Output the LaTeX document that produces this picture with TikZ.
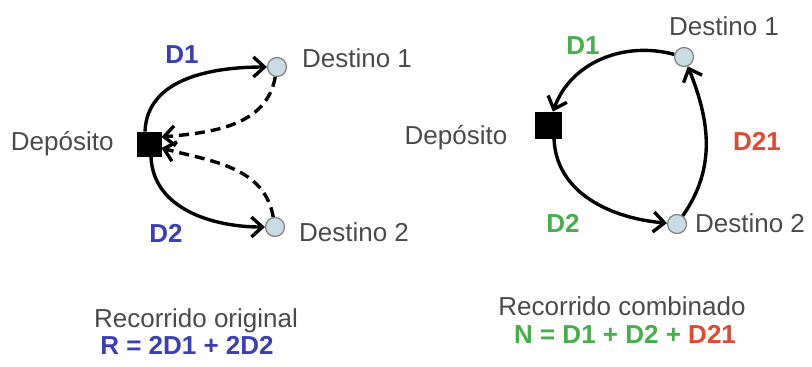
\documentclass[tikz,border=0pt]{standalone}
\usepackage{fontspec}
\setmainfont{Liberation Sans}
\usepackage{tikz}
\usetikzlibrary{arrows.meta,positioning}
\definecolor{txtgris}{HTML}{4A4A4A}
\definecolor{azulD}{HTML}{3B3FB4}
\definecolor{verdeD}{HTML}{45B048}
\definecolor{rojoD}{HTML}{E0492F}
\definecolor{nodoaz}{HTML}{C9DCE4}

\begin{document}
\begin{tikzpicture}[x=0.5pt,y=0.5pt,
  font=\fontsize{13}{15}\selectfont, text=txtgris,
  deposito/.style={fill=black,draw=black,minimum size=#1,inner sep=0pt},
  destino/.style={circle,fill=nodoaz,draw=gray,line width=0.6pt,minimum size=9.5pt,inner sep=0pt},
  ruta/.style={line width=1.7pt,-{Straight Barb[length=5.5pt,width=10pt]}},
  vuelta/.style={ruta,dash pattern=on 5pt off 3pt},
  dist/.style={font=\fontsize{13}{15}\selectfont\bfseries}]
  \useasboundingbox (0,0) rectangle (812,-366);

  % izquierda: recorrido original
  \node[deposito=12pt] (depL) at (149,-144) {};
  \node[left=8pt of depL] (labDepL) {Depósito};
  \node[destino] (d1L) at (277,-67) {};
  \node[destino] (d2L) at (275,-227) {};
  \node[anchor=west] (labD1L) at (295,-58) {Destino 1};
  \node[anchor=west] (labD2L) at (292,-232) {Destino 2};
  \node[dist,text=azulD] (distD1L) at (182,-55) {D1};
  \node[dist,text=azulD] (distD2L) at (166,-233) {D2};
  \draw[ruta] ([xshift=-2pt]depL.north) to[out=88,in=180] (d1L);
  \draw[ruta] ([xshift=1pt]depL.south) to[out=-88,in=180] (d2L);
  \draw[vuelta] (d1L) to[out=-100,in=5] ([yshift=3.5pt]depL.east);
  \draw[vuelta] (d2L) to[out=100,in=-15] ([yshift=-2pt]depL.east);
  \node (tituloL) at (196,-321) {Recorrido original};
  \node[dist,text=azulD] (formulaL) at (187,-345) {R = 2D1 + 2D2};

  % derecha: recorrido combinado
  \node[deposito=13pt] (depR) at (548,-125) {};
  \node (labDepR) at (456,-138) {Depósito};
  \node[destino] (d1R) at (684,-57) {};
  \node[destino] (d2R) at (677,-224) {};
  \node (labD1R) at (724,-26) {Destino 1};
  \node (labD2R) at (750,-223) {Destino 2};
  \node[dist,text=verdeD] (distD1R) at (583,-46) {D1};
  \node[dist,text=verdeD] (distD2R) at (563,-223) {D2};
  \node[dist,text=rojoD] (distD21R) at (757,-141) {D21};
  \draw[ruta] (d1R) to[out=165,in=70] (depR);
  \draw[ruta] ([xshift=3pt]depR.south) to[out=-88,in=175] (d2R);
  \draw[ruta] (d2R) to[out=55,in=-68] (d1R);
  \node (tituloR) at (622,-306) {Recorrido combinado};
  \node[dist] (formulaR) at (625,-334)
    {\textcolor{verdeD}{N = D1 + D2 +} \textcolor{rojoD}{D21}};
\end{tikzpicture}
\end{document}
